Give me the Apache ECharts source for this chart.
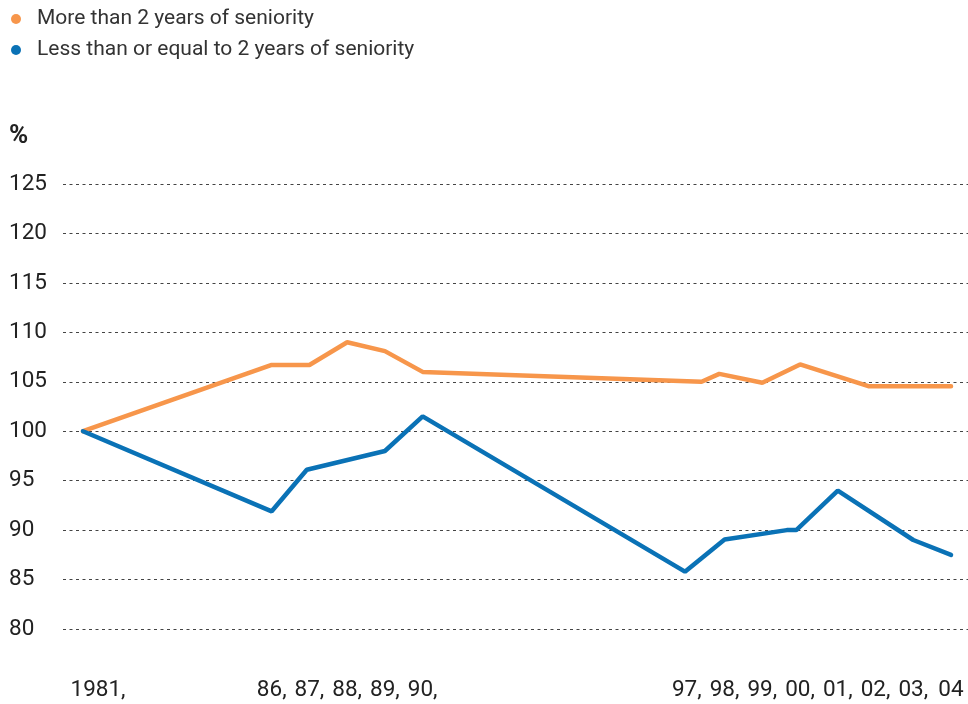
<!DOCTYPE html>
<html>
<head>
<meta charset="utf-8">
<script src="https://cdn.jsdelivr.net/npm/echarts@6/dist/echarts.min.js"></script>
<style>
  html, body { margin: 0; padding: 0; background: #fff; }
  #chart { width: 968px; height: 704px; }
</style>
</head>
<body>
<div id="chart"></div>
<script>
// series names
const seriesNames = ["More than 2 years of seniority", "Less than or equal to 2 years of seniority"];

// x positions (years) and values
const seniorYears = [1981, 1986, 1987, 1988, 1989, 1990, 1997.39, 1997.86, 1999, 2000, 2001.81, 2003, 2004];
const seniorValues = [100, 106.7, 106.7, 109.0, 108.1, 106.0, 105.0, 105.8, 104.9, 106.75, 104.55, 104.55, 104.55];

const juniorYears = [1981, 1986, 1986.93, 1989, 1990, 1996.95, 1998, 1999.65, 1999.9, 2001, 2003, 2004];
const juniorValues = [100, 91.9, 96.1, 98.0, 101.5, 85.8, 89.05, 90.0, 90.0, 94.0, 89.0, 87.5];

// tick labels on the x axis
const labelYears = [1981, 1986, 1987, 1988, 1989, 1990, 1997, 1998, 1999, 2000, 2001, 2002, 2003, 2004];
const labelTexts = ["1981,", "86,", "87,", "88,", "89,", "90,", "97,", "98,", "99,", "00,", "01,", "02,", "03,", "04"];

const chart = echarts.init(document.getElementById("chart"));

function pairs(xs, ys) {
  return xs.map((x, i) => [x, ys[i]]);
}

chart.setOption({
  animation: false,
  textStyle: { fontFamily: "Roboto" },
  title: {
    text: "%",
    left: 9,
    top: 123,
    padding: 0,
    textStyle: { fontSize: 26, fontWeight: "bold", color: "#222", fontFamily: "Roboto" }
  },
  legend: {
    orient: "vertical",
    left: 11,
    top: 8,
    padding: 0,
    icon: "circle",
    itemWidth: 10,
    itemHeight: 10,
    itemGap: 9,
    textStyle: { fontSize: 21, color: "#333", lineHeight: 22, padding: [0, 0, 0, 11] },
    data: seriesNames
  },
  grid: { left: 63, right: 0, top: 184, bottom: 75 },
  xAxis: {
    type: "value",
    min: 1980.47,
    max: 2004.45,
    axisLine: { show: false },
    axisTick: { show: false },
    splitLine: { show: false },
    axisLabel: {
      customValues: labelYears,
      margin: 50,
      fontSize: 22.5,
      color: "#222",
      formatter: function (v) {
        const i = labelYears.indexOf(Math.round(v));
        if (i < 0) return "";
        if (i === 0) return "{f|" + labelTexts[i] + "}";
        return labelTexts[i];
      },
      rich: { f: { fontSize: 22.5, color: "#222", padding: [0, 0, 0, 30] } }
    }
  },
  yAxis: {
    type: "value",
    min: 80,
    max: 125,
    interval: 5,
    axisLine: { show: false },
    axisTick: { show: false },
    axisLabel: { align: "left", margin: 54, fontSize: 22.5, color: "#222" },
    splitLine: { lineStyle: { color: "#444", width: 1, type: [3, 3.5] } }
  },
  series: [
    {
      name: seriesNames[0],
      type: "line",
      data: pairs(seniorYears, seniorValues),
      showSymbol: false,
      symbol: "circle",
      color: "#F7964B",
      lineStyle: { width: 4.5, color: "#F7964B", cap: "round" }
    },
    {
      name: seriesNames[1],
      type: "line",
      data: pairs(juniorYears, juniorValues),
      showSymbol: false,
      symbol: "circle",
      color: "#0A72B6",
      lineStyle: { width: 4.5, color: "#0A72B6", cap: "round" }
    }
  ]
});
</script>
</body>
</html>
